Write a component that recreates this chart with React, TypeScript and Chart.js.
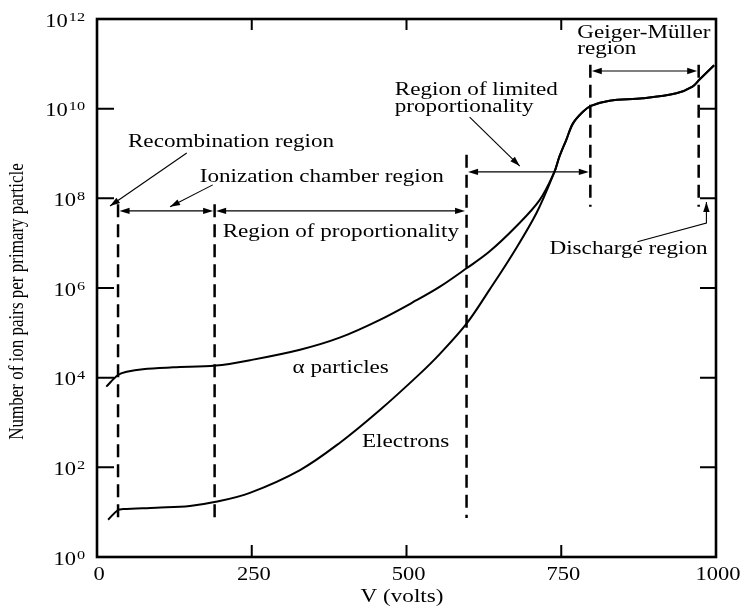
import React, { useEffect, useRef } from "react";
import { Chart, registerables } from "chart.js";

Chart.register(...registerables);

// ---- Data ----
const voltsAlpha = [15, 34, 48, 74, 123, 192, 247, 328, 392, 457, 517, 554, 597, 634, 677, 715, 739, 747, 758, 769, 785, 798, 828, 882, 936, 962, 973, 997];
const alphaPairs = [6.3e3, 1.15e4, 1.35e4, 1.55e4, 1.7e4, 1.86e4, 2.45e4, 4.2e4, 7.8e4, 1.95e5, 5.4e5, 1.07e6, 2.75e6, 6.5e6, 2.35e7, 9.1e7, 3.9e8, 8.5e8, 2.0e9, 4.7e9, 8.5e9, 1.15e10, 1.5e10, 1.7e10, 2.2e10, 3.1e10, 4.4e10, 9.3e10];
const voltsElectrons = [18, 34, 42, 96, 150, 192, 247, 328, 392, 457, 521, 554, 597, 634, 672, 710, 739, 747, 758, 769, 785, 798, 828, 882, 936, 962, 973, 997];
const electronPairs = [6.8, 11.2, 11.7, 12.6, 13.8, 17, 27, 87, 350, 1.9e3, 1.2e4, 3.4e4, 1.6e5, 9.1e5, 5.9e6, 4.7e7, 3.9e8, 8.5e8, 2.0e9, 4.7e9, 8.5e9, 1.15e10, 1.5e10, 1.7e10, 2.2e10, 3.1e10, 4.4e10, 9.3e10];

const xTickValues = [0, 250, 500, 750, 1000];
const xTickLabels = ["0", "250", "500", "750", "1000"];
const yTickExponents = [0, 2, 4, 6, 8, 10, 12];
const xTitle = "V (volts)";
const yTitle = "Number of ion pairs per primary particle";

// Region boundaries (volts) and their dashed extents (decades)
const dividerVolts = [34, 190, 597, 797, 972];
const dividerTopDecade = [7.87, 7.87, 8.97, 10.98, 10.98];
const dividerBottomDecade = [0.76, 0.76, 0.87, 7.81, 7.81];

// Double-headed span arrows: [fromV, toV, decade]
const spanArrows: [number, number, number][] = [
  [34, 190, 7.72],
  [190, 597, 7.72],
  [597, 797, 8.59],
  [797, 972, 10.84],
];

// Pointer arrows: polyline in [volts, decade], head at last point
const pointerArrows: [number, number][][] = [
  [[145, 9.01], [21, 7.83]],
  [[187, 8.3], [118, 7.81]],
  [[602, 9.81], [683, 8.72]],
  [[873, 7.03], [984.5, 7.45], [984.5, 7.92]],
];

// Labels: text, left volts, baseline decade
const annotationLabels: [string, number, number][] = [
  ["Recombination region", 50, 9.15],
  ["Ionization chamber region", 166, 8.36],
  ["Region of proportionality", 203, 7.14],
  ["Region of limited", 481, 10.31],
  ["proportionality", 481, 9.93],
  ["Geiger-Müller", 776, 11.58],
  ["region", 776, 11.23],
  ["Discharge region", 731, 6.76],
  ["α particles", 316, 4.1],
  ["Electrons", 428, 2.45],
];

const SERIF = "'Liberation Serif', 'Times New Roman', serif";
const SX = 1.25;

function drawStretched(ctx: CanvasRenderingContext2D, text: string, x: number, y: number, align: CanvasTextAlign) {
  ctx.save();
  ctx.translate(x, y);
  ctx.scale(SX, 1);
  ctx.textAlign = align;
  ctx.textBaseline = "alphabetic";
  ctx.fillText(text, 0, 0);
  ctx.restore();
}

function arrowHead(ctx: CanvasRenderingContext2D, x1: number, y1: number, x2: number, y2: number) {
  const ang = Math.atan2(y2 - y1, x2 - x1);
  const len = 10;
  const hw = 3.2;
  ctx.beginPath();
  ctx.moveTo(x2, y2);
  ctx.lineTo(x2 - len * Math.cos(ang) + hw * Math.sin(ang), y2 - len * Math.sin(ang) - hw * Math.cos(ang));
  ctx.lineTo(x2 - len * Math.cos(ang) - hw * Math.sin(ang), y2 - len * Math.sin(ang) + hw * Math.cos(ang));
  ctx.closePath();
  ctx.fill();
}

const decorPlugin = {
  id: "ionDecor",
  afterDatasetsDraw(chart: any) {
    const ctx: CanvasRenderingContext2D = chart.ctx;
    const xs = chart.scales.x;
    const ys = chart.scales.y;
    const px = (v: number) => xs.getPixelForValue(v);
    const py = (d: number) => ys.getPixelForValue(Math.pow(10, d));
    const { left, right, top, bottom } = chart.chartArea;

    ctx.save();
    ctx.strokeStyle = "#000";
    ctx.fillStyle = "#000";

    // frame
    ctx.lineWidth = 2.6;
    ctx.setLineDash([]);
    ctx.strokeRect(left, top, right - left, bottom - top);

    // inner ticks
    ctx.lineWidth = 2;
    xTickValues.forEach((v) => {
      if (v === xTickValues[0] || v === xTickValues[xTickValues.length - 1]) return;
      const x = px(v);
      ctx.beginPath();
      ctx.moveTo(x, bottom);
      ctx.lineTo(x, bottom - 12);
      ctx.moveTo(x, top);
      ctx.lineTo(x, top + 11);
      ctx.stroke();
    });
    yTickExponents.forEach((e) => {
      if (e === yTickExponents[0] || e === yTickExponents[yTickExponents.length - 1]) return;
      const y = py(e);
      ctx.beginPath();
      ctx.moveTo(left, y);
      ctx.lineTo(left + 17, y);
      ctx.moveTo(right, y);
      ctx.lineTo(right - 16, y);
      ctx.stroke();
    });

    // x tick labels
    ctx.font = `18px ${SERIF}`;
    xTickValues.forEach((v, i) => {
      drawStretched(ctx, xTickLabels[i], px(v) + 2, bottom + 23, "center");
    });

    // y tick labels 10^n
    yTickExponents.forEach((e) => {
      const y = py(e);
      const expStr = String(e);
      ctx.font = `13px ${SERIF}`;
      const ew = ctx.measureText(expStr).width * SX;
      drawStretched(ctx, expStr, 85, y + 1.5, "right");
      ctx.font = `18px ${SERIF}`;
      drawStretched(ctx, "10", 85 - ew - 1, y + 7.5, "right");
    });

    // axis titles
    ctx.font = `18.5px ${SERIF}`;
    drawStretched(ctx, xTitle, 402, 602, "center");
    ctx.save();
    ctx.translate(17, 301.5);
    ctx.scale(SX, 1);
    ctx.rotate(-Math.PI / 2);
    ctx.font = `17px ${SERIF}`;
    ctx.textAlign = "center";
    ctx.textBaseline = "middle";
    ctx.fillText(yTitle, 0, 0);
    ctx.restore();

    // dashed dividers
    ctx.lineWidth = 2.5;
    ctx.setLineDash([13, 7]);
    dividerVolts.forEach((v, i) => {
      const x = px(v);
      ctx.beginPath();
      ctx.moveTo(x, py(dividerTopDecade[i]));
      ctx.lineTo(x, py(dividerBottomDecade[i]));
      ctx.stroke();
    });
    ctx.setLineDash([]);

    // span arrows
    ctx.lineWidth = 1.1;
    spanArrows.forEach(([a, b, d]) => {
      const x1 = px(a) + 1.5;
      const x2 = px(b) - 1.5;
      const y = py(d);
      ctx.beginPath();
      ctx.moveTo(x1 + 5, y);
      ctx.lineTo(x2 - 5, y);
      ctx.stroke();
      arrowHead(ctx, x2 - 10, y, x2, y);
      arrowHead(ctx, x1 + 10, y, x1, y);
    });

    // pointer arrows
    pointerArrows.forEach((pts) => {
      const p = pts.map(([v, d]) => [px(v), py(d)]);
      ctx.beginPath();
      ctx.moveTo(p[0][0], p[0][1]);
      for (let i = 1; i < p.length; i++) ctx.lineTo(p[i][0], p[i][1]);
      ctx.stroke();
      const n = p.length;
      arrowHead(ctx, p[n - 2][0], p[n - 2][1], p[n - 1][0], p[n - 1][1]);
    });

    // labels
    ctx.font = `18.5px ${SERIF}`;
    annotationLabels.forEach(([t, v, d]) => {
      drawStretched(ctx, t, px(v), py(d), "left");
    });

    ctx.restore();
  },
};

export default function App() {
  const ref = useRef<HTMLCanvasElement>(null);
  useEffect(() => {
    document.body.style.margin = "0";
    const chart = new Chart(ref.current as HTMLCanvasElement, {
      type: "scatter",
      data: {
        datasets: [
          {
            label: "α particles",
            data: voltsAlpha.map((v, i) => ({ x: v, y: alphaPairs[i] })),
            showLine: true,
            borderColor: "#000",
            borderWidth: 2,
            pointRadius: 0,
            tension: 0.35,
            fill: false,
          },
          {
            label: "Electrons",
            data: voltsElectrons.map((v, i) => ({ x: v, y: electronPairs[i] })),
            showLine: true,
            borderColor: "#000",
            borderWidth: 2,
            pointRadius: 0,
            tension: 0.35,
            fill: false,
          },
        ],
      },
      options: {
        responsive: false,
        animation: false,
        devicePixelRatio: 1,
        layout: { padding: { left: 97, right: 26, top: 19, bottom: 54 } },
        plugins: { legend: { display: false }, tooltip: { enabled: false } },
        scales: {
          x: { type: "linear", min: 0, max: 1000, display: false },
          y: { type: "logarithmic", min: 1, max: 1e12, display: false },
        },
      },
      plugins: [decorPlugin],
    } as any);
    return () => chart.destroy();
  }, []);
  return (
    <div style={{ width: 742, height: 611 }}>
      <canvas ref={ref} width={742} height={611} style={{ display: "block" }} />
    </div>
  );
}
